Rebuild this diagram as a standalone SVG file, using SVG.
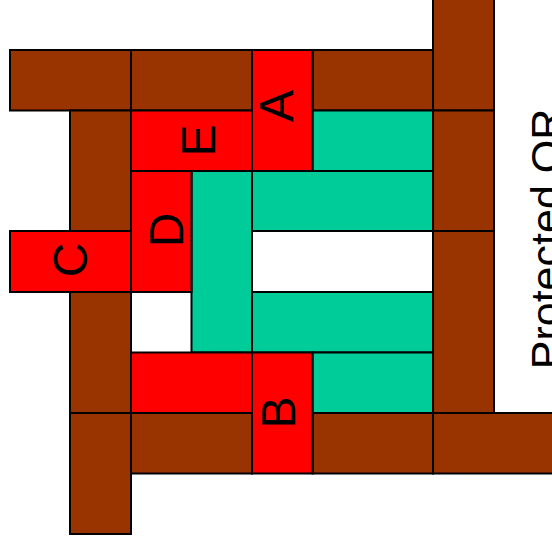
<svg xmlns="http://www.w3.org/2000/svg" width="552" height="549" viewBox="0 0 552 549">
<style>
rect{stroke:#000;stroke-width:2}
.br{fill:#993300}
.rd{fill:#FF0000}
.tl{fill:#00CC99}
text{font-family:"Liberation Sans",Arial,sans-serif;font-size:48px;fill:#000;text-anchor:middle}
</style>
<rect x="0" y="0" width="552" height="549" fill="#fff" style="stroke:none"/>
<g id="walls">
<g id="w1"><rect class="br" x="10" y="50" width="121" height="60.5"/></g>
<g id="w2"><rect class="br" x="131" y="50" width="121" height="60.5"/></g>
<g id="w3"><rect class="br" x="312.5" y="50" width="120.5" height="60.5"/></g>
<g id="w4"><rect class="br" x="433" y="-5" width="61" height="115.5"/></g>
<g id="w5"><rect class="br" x="433" y="110.5" width="61" height="120.5"/></g>
<g id="w6"><rect class="br" x="433" y="231" width="61" height="182"/></g>
<g id="w7"><rect class="br" x="70" y="110.5" width="61" height="120.5"/></g>
<g id="w8"><rect class="br" x="70" y="292" width="61" height="121"/></g>
<g id="w9"><rect class="br" x="70" y="413" width="61" height="121"/></g>
<g id="w10"><rect class="br" x="131" y="413" width="121" height="60.5"/></g>
<g id="w11"><rect class="br" x="312.5" y="413" width="120.5" height="60.5"/></g>
<g id="w12"><rect class="br" x="433" y="413" width="130" height="60.5"/></g>
</g>
<g id="cells">
<g id="t1"><rect class="tl" x="312.5" y="110.5" width="120.5" height="60.5"/></g>
<g id="t2"><rect class="tl" x="252" y="171" width="181" height="60"/></g>
<g id="t3"><rect class="tl" x="191.5" y="171" width="60.5" height="181.5"/></g>
<g id="t4"><rect class="tl" x="252" y="292" width="181" height="60.5"/></g>
<g id="t5"><rect class="tl" x="312.5" y="352.5" width="120.5" height="60.5"/></g>
</g>
<g id="A"><rect class="rd" x="252" y="50" width="60.5" height="121"/><text transform="translate(293,106) rotate(-90)">A</text></g>
<g id="E"><rect class="rd" x="131" y="110.5" width="121" height="60.5"/><text transform="translate(215,140.5) rotate(-90)">E</text></g>
<g id="D"><rect class="rd" x="131" y="171" width="60.5" height="121"/><text transform="translate(183,230) rotate(-90)">D</text></g>
<g id="C"><rect class="rd" x="10" y="231" width="121" height="61"/><text transform="translate(87,260) rotate(-90)">C</text></g>
<g id="R"><rect class="rd" x="131" y="352.5" width="121" height="60.5"/></g>
<g id="B"><rect class="rd" x="252" y="352.5" width="60.5" height="121"/><text transform="translate(295,412.5) rotate(-90)">B</text></g>
<g id="label"><text transform="translate(561,239) rotate(-90)" style="font-size:43px">Protected OR</text></g>
</svg>
